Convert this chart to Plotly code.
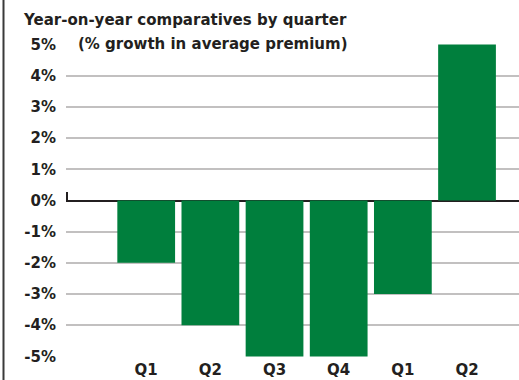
import plotly.graph_objects as go

# Quarterly year-on-year change in average premium (%)
quarters = ["Q1", "Q2", "Q3", "Q4", "Q1", "Q2"]
growth = [-2, -4, -5, -5, -3, 5]
y_ticks = [5, 4, 3, 2, 1, 0, -1, -2, -3, -4, -5]
y_labels = [f"{v}%" for v in y_ticks]

GREEN = "#007f3d"
INK = "#231f20"
GRID = "#c2c0c0"
FONT = "DejaVu Sans"

W, H = 519, 380
L, R, T, B = 66, 0, 44, 23
pw, ph = W - L - R, H - T - B

def px_x(px):
    return (px - L) / pw

def px_y(py):
    return (H - B - py) / ph

xpos = list(range(len(quarters)))

fig = go.Figure()
fig.add_trace(go.Bar(
    x=xpos, y=growth, width=0.9,
    marker=dict(color=GREEN, line=dict(width=0)),
    hoverinfo="skip",
))

fig.update_layout(
    template="none",
    width=W, height=H,
    margin=dict(l=L, r=R, t=T, b=B, pad=0),
    paper_bgcolor="white", plot_bgcolor="white",
    showlegend=False,
    font=dict(family=FONT, color=INK, size=15),
)
fig.update_xaxes(
    range=[-1.25, 5.81],
    tickmode="array", tickvals=xpos, ticktext=quarters,
    tickfont=dict(family=FONT, size=15, color=INK, weight="bold"),
    showgrid=False, zeroline=False, showline=False, ticks="",
    ticklabelstandoff=2,
    fixedrange=True,
)
fig.update_yaxes(
    range=[-5.02, 5.02],
    tickmode="array", tickvals=y_ticks, ticktext=y_labels,
    tickfont=dict(family=FONT, size=15, color=INK, weight="bold"),
    showgrid=True, gridcolor=GRID, gridwidth=2,
    zeroline=True, zerolinecolor=INK, zerolinewidth=2,
    showline=False, ticks="",
    ticklabelstandoff=9,
    fixedrange=True,
)

# Title lines
fig.add_annotation(
    text="<b>Year-on-year comparatives by quarter</b>",
    xref="paper", yref="paper", x=px_x(21), y=px_y(20),
    xanchor="left", yanchor="middle", showarrow=False,
    font=dict(family=FONT, size=15, color=INK),
)
fig.add_annotation(
    text="<b>(% growth in average premium)</b>",
    xref="paper", yref="paper", x=px_x(74), y=px_y(44),
    xanchor="left", yanchor="middle", showarrow=False,
    font=dict(family=FONT, size=15, color=INK),
    bgcolor="white", borderpad=3,
)

# Left frame rule and the small tick at the start of the zero line
fig.add_shape(type="line", xref="paper", yref="paper",
              x0=px_x(3.5), x1=px_x(3.5), y0=px_y(380), y1=px_y(0),
              line=dict(color="#3a3a3a", width=2))
fig.add_shape(type="line", xref="paper", yref="y",
              x0=px_x(67), x1=px_x(67), y0=0, y1=0.27,
              line=dict(color=INK, width=2))

fig.write_html("out.html")
